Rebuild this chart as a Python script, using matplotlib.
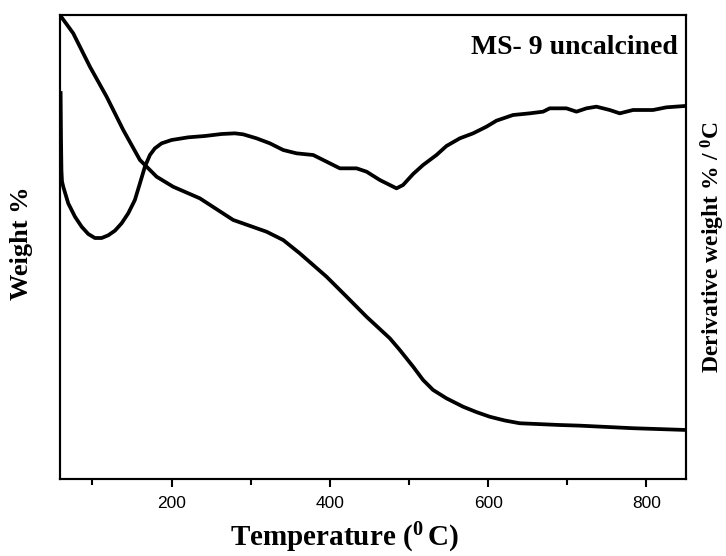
import numpy as np
import matplotlib
matplotlib.use('Agg')
import matplotlib.pyplot as plt

plt.rcParams['mathtext.fontset'] = 'custom'
plt.rcParams['mathtext.rm'] = 'Liberation Serif:bold'
plt.rcParams['mathtext.it'] = 'Liberation Serif:bold'
plt.rcParams['mathtext.bf'] = 'Liberation Serif:bold'

# TGA curve (weight %)
tga_T = [59.8, 67.0, 75.7, 96.8, 117.9, 138.9, 160.0, 181.1, 202.0, 235.7, 277.8,
         320.0, 341.0, 362.0, 395.8, 421.0, 446.3, 475.7, 488.4, 505.2, 517.8,
         530.4, 547.3, 568.3, 585.0, 602.0, 621.0, 639.9, 690.4, 715.7, 783.1, 850.0]
tga_w = [100.0, 99.15, 98.12, 94.49, 91.23, 87.61, 84.35, 82.53, 81.44, 80.18, 77.83,
         76.55, 75.65, 74.20, 71.66, 69.50, 67.31, 64.97, 63.69, 61.88, 60.43,
         59.35, 58.44, 57.53, 56.95, 56.44, 56.03, 55.73, 55.54, 55.47, 55.19, 55.00]

# DTG curve (derivative weight %/C)
dtg_T = [59.8, 60.3, 60.8, 61.5, 63.1, 69.4, 77.9, 86.3, 94.7, 103.1,
         111.6, 119.9, 128.4, 136.8, 145.2, 153.6, 160.0, 166.3, 172.6, 178.9,
         187.4, 200.0, 221.0, 242.1, 263.2, 280.0, 290.4, 307.4, 324.2, 341.0,
         357.9, 378.9, 395.8, 412.6, 433.7, 446.3, 463.1, 484.2, 492.5, 505.2,
         517.8, 534.7, 547.3, 564.2, 581.0, 597.9, 610.5, 631.5, 652.6, 669.4,
         677.8, 698.9, 711.6, 724.2, 736.8, 753.6, 766.3, 783.1, 808.3, 825.2,
         848.4]
dtg_d = [0.0105, -0.060, -0.105, -0.122, -0.130, -0.155, -0.175, -0.190, -0.201, -0.207,
         -0.207, -0.203, -0.196, -0.185, -0.170, -0.150, -0.125, -0.100, -0.0825, -0.0725,
         -0.065, -0.060, -0.056, -0.054, -0.051, -0.050, -0.0515, -0.0575, -0.065, -0.075,
         -0.080, -0.0825, -0.0925, -0.1025, -0.1025, -0.1075, -0.120, -0.1325, -0.1275, -0.111,
         -0.0975, -0.0825, -0.069, -0.0575, -0.050, -0.040, -0.031, -0.0225, -0.020, -0.0175,
         -0.0125, -0.0125, -0.0175, -0.0125, -0.010, -0.015, -0.020, -0.015, -0.015, -0.011,
         -0.009]

fig = plt.figure(figsize=(7.26, 5.56), dpi=100)
ax = fig.add_axes([60/726, 77/556, 626/726, 464/556])
ax2 = ax.twinx()

ax.plot(tga_T, tga_w, color='black', lw=2.7, solid_joinstyle='round')
ax2.plot(dtg_T, dtg_d, color='black', lw=2.7, solid_joinstyle='round')

ax.set_xlim(59, 850)
ax.set_ylim(49.67, 100.11)
ax2.set_ylim(-0.5685, 0.1275)

ax.set_xticks([200, 400, 600, 800])
ax.set_xticks([100, 300, 500, 700], minor=True)
ax.set_yticks([])
ax2.set_yticks([])
ax.tick_params(axis='x', which='major', direction='out', length=6, width=1.5,
               labelsize=12.5, pad=6)
ax.tick_params(axis='x', which='minor', direction='out', length=4, width=1.5)
for a in (ax, ax2):
    for s in a.spines.values():
        s.set_linewidth(1.5)
for lab in ax.get_xticklabels():
    lab.set_fontfamily('Liberation Sans')

ax.set_xlabel(r'Temperature ($^{0}\,$C)', fontsize=21, fontweight='bold',
              family='Liberation Serif', va='center')
ax.xaxis.set_label_coords(0.455, -0.128)
ax.set_ylabel('Weight %', fontsize=19, fontweight='bold',
              family='Liberation Serif')
ax.yaxis.set_label_coords(-0.043, 0.509)
ax2.set_ylabel(r'Derivative weight % / $^{0}$C', fontsize=17, fontweight='bold',
               family='Liberation Serif')
ax2.yaxis.set_label_coords(1.020, 0.50)

ax.text(0.987, 0.931, 'MS- 9 uncalcined', transform=ax.transAxes, ha='right',
        va='center', fontsize=20, fontweight='bold', family='Liberation Serif')

fig.savefig('out.png', dpi=100)
